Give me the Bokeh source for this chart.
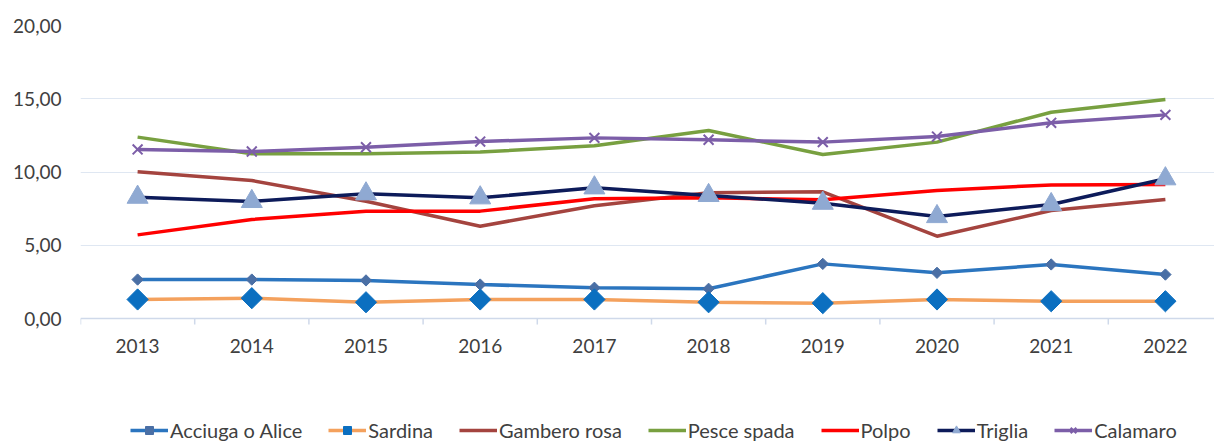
import math
from bokeh.plotting import figure
from bokeh.models import (Range1d, FixedTicker, Legend, LegendItem, Span)
from bokeh.core.properties import value
from bokeh.embed import file_html
from bokeh.resources import INLINE

years = ["2013", "2014", "2015", "2016", "2017", "2018", "2019", "2020", "2021", "2022"]
acciuga = [2.66, 2.66, 2.60, 2.32, 2.10, 2.03, 3.73, 3.12, 3.69, 3.00]
sardina = [1.30, 1.39, 1.11, 1.30, 1.30, 1.11, 1.05, 1.30, 1.18, 1.18]
gambero = [10.01, 9.42, 8.00, 6.30, 7.70, 8.58, 8.65, 5.62, 7.37, 8.12]
pesce_spada = [12.38, 11.24, 11.24, 11.36, 11.80, 12.83, 11.19, 12.04, 14.08, 14.95]
polpo = [5.71, 6.76, 7.33, 7.33, 8.17, 8.24, 8.10, 8.74, 9.12, 9.15]
triglia = [8.28, 7.99, 8.51, 8.24, 8.92, 8.40, 7.87, 6.96, 7.78, 9.54]
calamaro = [11.54, 11.40, 11.69, 12.08, 12.33, 12.20, 12.04, 12.42, 13.36, 13.90]
y_ticks = [0, 5, 10, 15, 20]
y_tick_labels = ["0,00", "5,00", "10,00", "15,00", "20,00"]

xs = list(range(len(years)))
FONT = "Lato"
TXT = "#404040"
AXIS = "#cfd9ea"

# frame covers the plot and the legend band below it; value axis 0..20
p = figure(width=1214, height=443, output_backend="svg", toolbar_location=None,
           x_range=Range1d(-0.5, 9.43), y_range=Range1d(-8.53, 20),
           x_axis_location=None,
           min_border_left=80, min_border_right=0, min_border_top=25,
           min_border_bottom=0)
p.outline_line_color = None
p.xgrid.grid_line_color = None
p.ygrid.ticker = FixedTicker(ticks=y_ticks[1:])
p.ygrid.grid_line_color = "#dfe7f2"
p.ygrid.grid_line_width = 1

p.yaxis.ticker = FixedTicker(ticks=y_ticks)
p.yaxis.major_label_overrides = {t: l for t, l in zip(y_ticks, y_tick_labels)}
p.yaxis.axis_line_color = None
p.yaxis.major_tick_line_color = None
p.yaxis.major_tick_out = 0
p.yaxis.minor_tick_line_color = None
p.yaxis.major_label_standoff = 19
p.yaxis.major_label_text_font = FONT
p.yaxis.major_label_text_font_size = "19px"
p.yaxis.major_label_text_color = TXT

# category axis drawn at value 0
p.add_layout(Span(location=y_ticks[0], dimension="width", line_color=AXIS, line_width=1.5))
bounds = [i - 0.5 for i in range(len(years) + 1)]
p.segment(x0=bounds, y0=[y_ticks[0]] * len(bounds), x1=bounds, y1=[y_ticks[0] - 0.41] * len(bounds),
          line_color=AXIS, line_width=1.5)
p.text(x=xs, y=[y_ticks[0] - 1.88] * len(xs), text=years, text_align="center",
       text_baseline="middle", text_font=value(FONT), text_font_size="19px", text_color=TXT)

LW = 3.5
items = []

r1 = p.line(xs, acciuga, line_color="#2b75bf", line_width=LW)
m1 = p.scatter(xs, acciuga, marker="square", angle=math.pi / 4, size=8, fill_color="#4a6fa5", line_color="#4a6fa5")
items.append(LegendItem(label="Acciuga o Alice", renderers=[r1, m1]))

r2 = p.line(xs, sardina, line_color="#f4a15d", line_width=LW)
m2 = p.scatter(xs, sardina, marker="square", angle=math.pi / 4, size=15, fill_color="#0b6fc0", line_color="#0b6fc0")
items.append(LegendItem(label="Sardina", renderers=[r2, m2]))

r3 = p.line(xs, gambero, line_color="#a4443f", line_width=LW)
items.append(LegendItem(label="Gambero rosa", renderers=[r3]))

r4 = p.line(xs, pesce_spada, line_color="#78a040", line_width=LW)
items.append(LegendItem(label="Pesce spada", renderers=[r4]))

r5 = p.line(xs, polpo, line_color="#ff0000", line_width=LW)
items.append(LegendItem(label="Polpo", renderers=[r5]))

r6 = p.line(xs, triglia, line_color="#0d1b5a", line_width=LW)
m6 = p.scatter(xs, triglia, marker="triangle", size=21, fill_color="#8fa9d2", line_color="#8fa9d2")
items.append(LegendItem(label="Triglia", renderers=[r6, m6]))

r7 = p.line(xs, calamaro, line_color="#7c5ea8", line_width=LW)
m7 = p.scatter(xs, calamaro, marker="x", size=14, line_color="#7c5ea8", line_width=2)
items.append(LegendItem(label="Calamaro", renderers=[r7, m7]))

legend = Legend(items=items, orientation="horizontal", location=(50, 1),
                border_line_color=None, background_fill_alpha=0,
                label_text_font=FONT, label_text_font_size="20px", label_text_color=TXT,
                glyph_width=38, glyph_height=20, label_standoff=2, spacing=26,
                padding=0, margin=0)
p.add_layout(legend, "center")

open("out.html", "w").write(file_html(p, INLINE))
